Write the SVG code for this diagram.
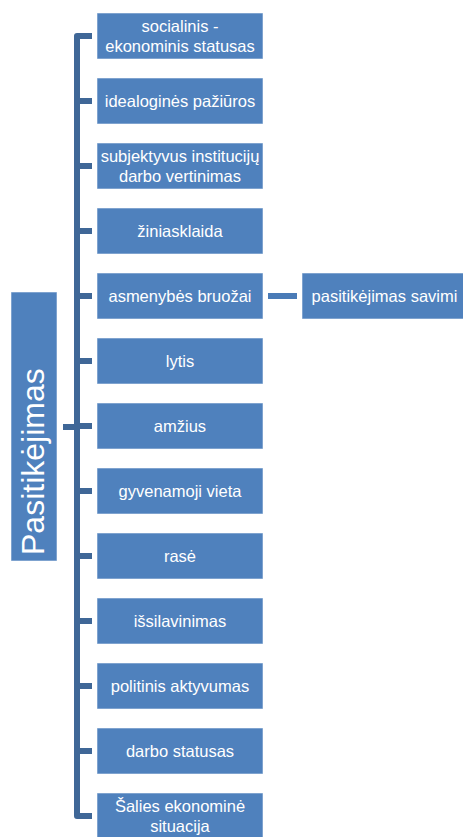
<svg xmlns="http://www.w3.org/2000/svg" width="463" height="837" viewBox="0 0 463 837">
<style>
.box{fill:#4F81BD;stroke:#ffffff;stroke-opacity:0.55;stroke-width:1}
.t{font-family:"Liberation Sans",Arial,sans-serif;font-size:16.5px;fill:#ffffff;text-anchor:middle}
.big{font-family:"Liberation Sans",Arial,sans-serif;font-size:32px;fill:#ffffff}
.br{fill:none;stroke:#3F6797;stroke-width:6;stroke-linejoin:round}
.c2{stroke:#4A7BB7;stroke-width:6}
</style>
<rect width="463" height="837" fill="#ffffff"/>
<g id="connectors">
<path class="br" d="M92,36 H77 V816 H92"/>
<path class="br" d="M77,101 H92 M77,166 H92 M77,231 H92 M77,296 H92 M77,361 H92 M77,426 H92 M77,491 H92 M77,556 H92 M77,621 H92 M77,686 H92 M77,751 H92"/>
<path class="br" d="M63,427 H77"/>
<line class="c2" x1="268" y1="296" x2="297" y2="296"/>
</g>
<g id="root">
<rect class="box" x="11" y="292" width="46" height="269"/>
<text class="big" transform="translate(44,555) rotate(-90)">Pasitikėjimas</text>
</g>
<g id="n1"><rect class="box" x="97" y="13" width="166" height="46"/><text class="t" x="180" y="32">socialinis -</text><text class="t" x="180" y="52">ekonominis statusas</text></g>
<g id="n2"><rect class="box" x="97" y="78" width="166" height="46"/><text class="t" x="180" y="107">idealoginės pažiūros</text></g>
<g id="n3"><rect class="box" x="97" y="143" width="166" height="46"/><text class="t" x="180" y="162">subjektyvus institucijų</text><text class="t" x="180" y="182">darbo vertinimas</text></g>
<g id="n4"><rect class="box" x="97" y="208" width="166" height="46"/><text class="t" x="180" y="237">žiniasklaida</text></g>
<g id="n5"><rect class="box" x="97" y="273" width="166" height="46"/><text class="t" x="180" y="302">asmenybės bruožai</text></g>
<g id="n5a"><rect class="box" x="302" y="273" width="166" height="46"/><text class="t" x="384.5" y="302">pasitikėjimas savimi</text></g>
<g id="n6"><rect class="box" x="97" y="338" width="166" height="46"/><text class="t" x="180" y="367">lytis</text></g>
<g id="n7"><rect class="box" x="97" y="403" width="166" height="46"/><text class="t" x="180" y="432">amžius</text></g>
<g id="n8"><rect class="box" x="97" y="468" width="166" height="46"/><text class="t" x="180" y="497">gyvenamoji vieta</text></g>
<g id="n9"><rect class="box" x="97" y="533" width="166" height="46"/><text class="t" x="180" y="562">rasė</text></g>
<g id="n10"><rect class="box" x="97" y="598" width="166" height="46"/><text class="t" x="180" y="627">išsilavinimas</text></g>
<g id="n11"><rect class="box" x="97" y="663" width="166" height="46"/><text class="t" x="180" y="692">politinis aktyvumas</text></g>
<g id="n12"><rect class="box" x="97" y="728" width="166" height="46"/><text class="t" x="180" y="757">darbo statusas</text></g>
<g id="n13"><rect class="box" x="97" y="793" width="166" height="46"/><text class="t" x="180" y="812">Šalies ekonominė</text><text class="t" x="180" y="832">situacija</text></g>
</svg>
